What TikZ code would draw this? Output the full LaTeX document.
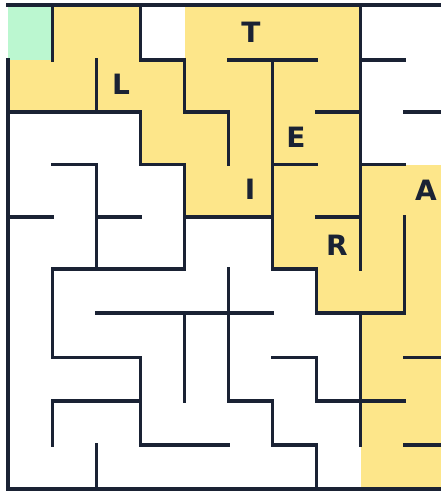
\documentclass[tikz,border=0pt]{standalone}
\usepackage{fontspec}
\setmainfont{DejaVu Sans}
\definecolor{wallc}{HTML}{1A2234}
\definecolor{pathc}{HTML}{FDE68A}
\definecolor{startc}{HTML}{BBF7D0}
\begin{document}
\begin{tikzpicture}[x=1pt,y=-1pt,
  wall/.style={line width=3.6pt, draw=wallc, line cap=rect},
  letter/.style={font=\bfseries\fontsize{28}{28}\selectfont, text=wallc, inner sep=0pt, anchor=center}]
\useasboundingbox (0,0) rectangle (441,491);
\clip (0,0) rectangle (441,491);
\fill[white] (0,0) rectangle (441,491);
% grid points
\foreach \i/\x in {0/8,1/52.5,2/96.5,3/140.5,4/184.5,5/228.5,6/272.5,7/316.5,8/360.5,9/404.5,10/448.5}{
  \foreach \j/\y in {0/5,1/60,2/112,3/164.5,4/217,5/269,6/313,7/357.5,8/401,9/445,10/489}{
    \coordinate (p\i-\j) at (\x,\y);
  }
}
% solution path cells
\fill[pathc] (p1-0) rectangle (p3-1);
\fill[pathc] (p4-0) rectangle (p8-1);
\fill[pathc] (p0-1) rectangle (p8-2);
\fill[pathc] (p3-2) rectangle (p8-3);
\fill[pathc] (p4-3) rectangle (p10-4);
\fill[pathc] (p6-4) rectangle (p10-5);
\fill[pathc] (p7-5) rectangle (p10-6);
\fill[pathc] (p8-6) rectangle (p10-10);
% start cell
\fill[startc] (p0-0) rectangle (p1-1);
% horizontal walls
\foreach \r/\a/\b in {0/0/10,
  1/3/4, 1/5/7, 1/8/9,
  2/0/3, 2/4/5, 2/7/8, 2/9/10,
  3/1/2, 3/3/4, 3/6/7, 3/8/9,
  4/0/1, 4/2/3, 4/4/6, 4/7/8,
  5/1/4, 5/6/7,
  6/2/6, 6/7/9,
  7/1/3, 7/6/7, 7/9/10,
  8/1/3, 8/5/6, 8/7/9,
  9/3/5, 9/6/7, 9/9/10,
  10/0/10}{
  \draw[wall] (p\a-\r) -- (p\b-\r);
}
% vertical walls
\foreach \c/\a/\b in {0/1/10,
  1/0/1, 1/5/7, 1/8/9,
  2/1/2, 2/3/5, 2/9/10,
  3/0/1, 3/2/3, 3/7/9,
  4/1/2, 4/3/5, 4/6/8,
  5/2/3, 5/5/8,
  6/1/5, 6/8/9,
  7/5/6, 7/7/8, 7/9/10,
  8/0/5, 8/6/9,
  9/4/6}{
  \draw[wall] (p\c-\a) -- (p\c-\b);
}
% letters
\node[letter] (lT) at (251,32) {T};
\node[letter] (lL) at (121,84) {L};
\node[letter] (lE) at (296,137.5) {E};
\node[letter] (lI) at (250,189) {I};
\node[letter] (lA) at (426,190) {A};
\node[letter] (lR) at (337,245) {R};
\end{tikzpicture}
\end{document}
